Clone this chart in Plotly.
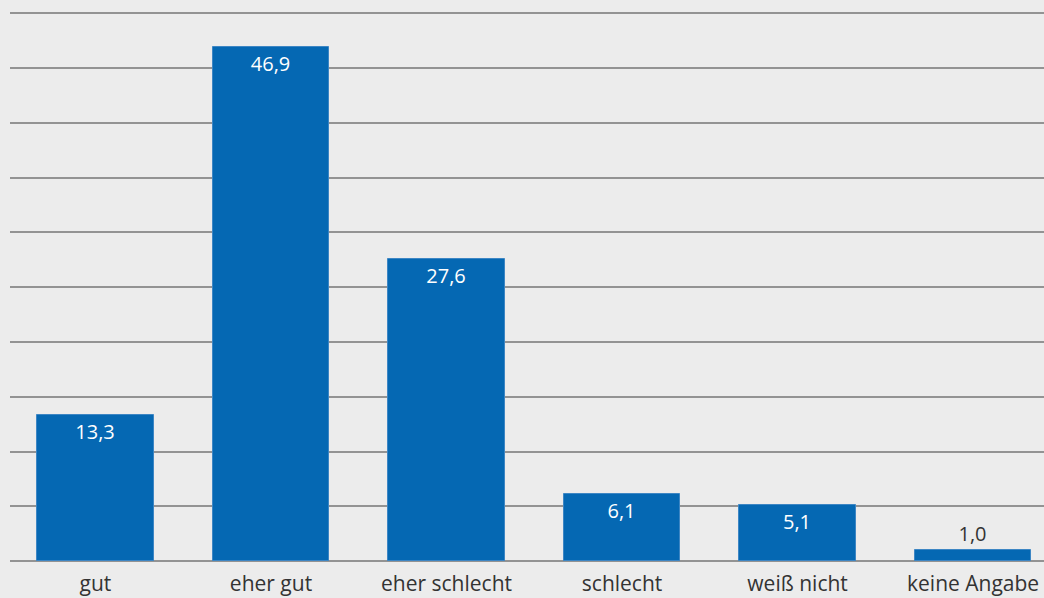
import plotly.graph_objects as go

categories = ["gut", "eher gut", "eher schlecht", "schlecht", "weiß nicht", "keine Angabe"]
values = [13.3, 46.9, 27.6, 6.1, 5.1, 1.0]
text_positions = ["inside", "inside", "inside", "inside", "inside", "outside"]
text_colors = ["#ffffff", "#ffffff", "#ffffff", "#ffffff", "#ffffff", "#333333"]

fig = go.Figure(
    go.Bar(
        x=list(range(len(categories))),
        y=values,
        width=0.665,
        marker=dict(color="#0568b3", line=dict(color="#3d86c4", width=1)),
        texttemplate="%{y:.1f}",
        textposition=text_positions,
        insidetextanchor="end",
        textfont=dict(color=text_colors, size=20, family="Open Sans"),
        cliponaxis=False,
    )
)

fig.update_layout(
    width=1044,
    height=598,
    margin=dict(l=10, r=0, t=8, b=37),
    paper_bgcolor="#ececec",
    plot_bgcolor="#ececec",
    separators=",.",
    showlegend=False,
    font=dict(family="Open Sans", size=20, color="#333333"),
    bargap=0,
)
fig.update_xaxes(
    range=[-0.487, 5.404],
    tickmode="array",
    tickvals=list(range(len(categories))),
    ticktext=categories,
    showgrid=False,
    showline=False,
    zeroline=False,
    ticks="",
    ticklabelstandoff=8,
    tickfont=dict(size=21, color="#333333"),
)
fig.update_yaxes(
    range=[0, 50.5],
    dtick=5,
    showgrid=True,
    gridcolor="#939393",
    gridwidth=2,
    zeroline=True,
    zerolinecolor="#939393",
    zerolinewidth=2,
    showticklabels=False,
    showline=False,
)

fig.write_html(
    "out.html",
    config={"displayModeBar": False},
    post_script="document.body.style.margin='0';document.body.style.background='#ececec';",
)
